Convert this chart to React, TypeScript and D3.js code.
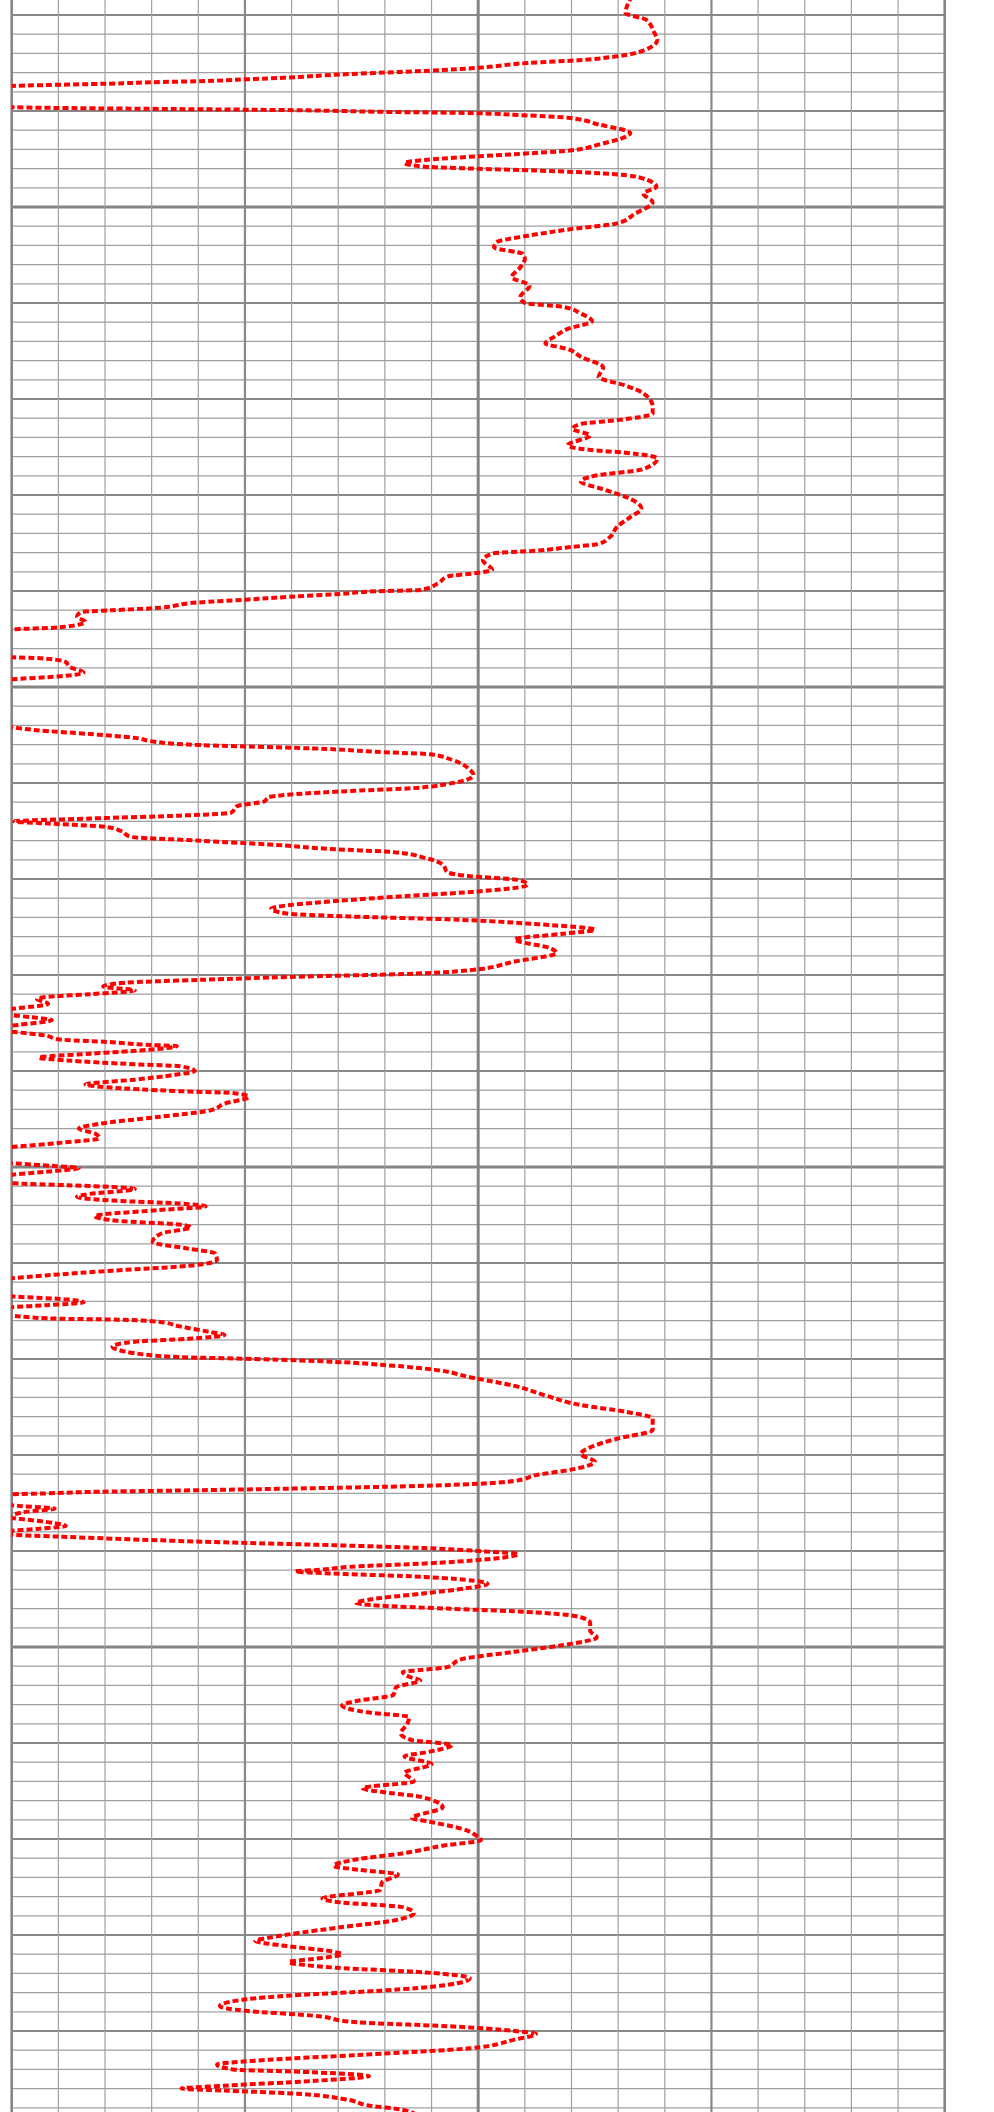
import React from "react";
import * as d3 from "d3";

// Depth (m) of each sample, top to bottom
const depth: number[] = [
  1978.0, 1979.8, 1980.5, 1981.9, 1982.6, 1983.7, 1984.3, 1984.7, 1985.0, 1985.5,
  1985.8, 1986.0, 1986.2, 1986.5, 1986.7, 1986.9, 1987.0, 1987.1, 1987.2, 1987.3,
  1987.4, 1988.5, 1989.6, 1989.7, 1989.8, 1989.9, 1990.1, 1990.2, 1990.4, 1990.7,
  1991.4, 1992.3, 1993.5, 1994.1, 1994.5, 1994.8, 1995.1, 1995.4, 1995.8, 1996.0,
  1996.2, 1996.5, 1996.9, 1997.9, 1998.6, 1999.5, 2000.7, 2001.7, 2002.3, 2003.0,
  2003.7, 2004.2, 2004.9, 2005.4, 2006.3, 2007.3, 2008.2, 2009.4, 2010.0, 2010.4,
  2011.1, 2011.9, 2012.7, 2013.5, 2014.2, 2014.8, 2015.6, 2016.7, 2017.7, 2018.6,
  2019.4, 2020.8, 2021.5, 2022.2, 2022.6, 2023.1, 2023.8, 2024.8, 2025.3, 2025.6,
  2026.2, 2027.3, 2028.0, 2028.6, 2029.4, 2030.4, 2031.4, 2032.3, 2033.3, 2034.4,
  2035.1, 2035.4, 2035.8, 2036.1, 2036.8, 2037.8, 2038.1, 2038.5, 2039.2, 2039.9,
  2040.0, 2040.3, 2040.6, 2040.9, 2041.2, 2041.8, 2042.0, 2042.2, 2042.7, 2043.2,
  2043.8, 2044.0, 2045.4, 2046.9, 2047.0, 2047.4, 2047.9, 2048.5, 2048.9, 2049.2,
  2051.6, 2054.2, 2054.5, 2054.9, 2055.3, 2055.7, 2056.0, 2056.2, 2056.4, 2056.8,
  2057.0, 2057.6, 2058.6, 2059.2, 2060.1, 2060.6, 2060.8, 2061.2, 2061.5, 2061.9,
  2062.4, 2063.1, 2063.4, 2063.7, 2064.0, 2064.2, 2064.6, 2065.0, 2065.6, 2066.0,
  2066.4, 2066.9, 2067.2, 2067.8, 2068.5, 2069.3, 2069.7, 2070.1, 2070.6, 2071.3,
  2071.8, 2072.3, 2072.7, 2073.1, 2073.6, 2073.9, 2074.2, 2074.7, 2075.3, 2075.7,
  2076.3, 2077.2, 2077.7, 2078.6, 2079.5, 2079.9, 2080.2, 2080.5, 2080.8, 2081.2,
  2081.6, 2082.0, 2082.3, 2082.5, 2083.0, 2083.5, 2083.8, 2084.2, 2084.4, 2084.7,
  2085.2, 2085.6, 2085.9, 2086.3, 2086.7, 2087.0, 2087.3, 2087.4, 2087.8, 2088.2,
  2088.6, 2088.9, 2089.3, 2089.5, 2090.0, 2090.4, 2090.9, 2091.4, 2091.7, 2092.1,
  2092.3, 2092.7, 2093.4, 2094.1, 2094.8, 2095.5, 2096.0, 2096.5, 2097.0, 2097.5,
  2097.9, 2098.8, 2099.6, 2099.9, 2100.1, 2100.5, 2100.8, 2101.2, 2101.7, 2101.9,
  2102.1, 2102.3, 2102.8, 2103.1, 2103.5, 2103.8, 2104.1, 2104.5, 2105.1, 2105.6,
  2106.0, 2106.3, 2106.9, 2107.8, 2108.5, 2109.0, 2109.7, 2110.3, 2110.8, 2111.3,
  2111.6, 2112.6, 2113.5, 2113.8, 2114.1, 2114.4, 2114.6, 2115.0, 2115.5, 2115.8,
  2115.9, 2116.1, 2116.6, 2117.2, 2117.5, 2117.9, 2118.2, 2118.7, 2119.4, 2119.8,
  2120.0, 2120.3, 2120.7, 2121.1, 2121.9, 2122.8, 2123.8, 2124.8, 2125.5, 2126.2,
  2127.4, 2128.3, 2129.2, 2129.9, 2130.7, 2131.5, 2132.1, 2132.7, 2133.0, 2133.3,
  2133.5, 2133.7, 2133.8, 2134.0, 2134.1, 2134.7, 2135.3, 2135.6, 2135.9, 2136.2,
  2136.4, 2136.6, 2137.1, 2137.4, 2137.7, 2138.0, 2138.3, 2138.5, 2138.8, 2139.1,
  2139.4, 2139.7, 2140.1, 2140.3, 2140.9, 2141.3, 2141.6, 2142.0, 2142.1, 2142.4,
  2142.6, 2143.0, 2143.4, 2143.9, 2144.4, 2145.1, 2145.4, 2145.7, 2146.0, 2146.4,
  2146.9, 2147.5, 2148.3, 2149.0, 2149.8, 2150.5, 2151.3, 2152.1, 2152.4, 2152.6,
  2153.1, 2153.5, 2154.2, 2155.0, 2155.6, 2156.1, 2156.8, 2157.3, 2158.0, 2159.0,
  2159.7, 2160.2, 2160.9, 2161.4, 2162.2, 2163.1, 2164.0, 2164.7, 2165.2, 2165.6,
  2166.7, 2167.8, 2168.2, 2168.9, 2169.8, 2170.1, 2170.7, 2171.5, 2172.1, 2172.8,
  2173.2, 2173.7, 2174.5, 2175.3, 2176.2, 2176.6, 2177.1, 2177.7, 2178.5, 2179.2,
  2180.3, 2180.6, 2181.1, 2181.7, 2182.0, 2182.5, 2182.8, 2183.4, 2183.9, 2184.5,
  2185.2, 2185.8, 2186.3, 2186.7, 2187.4, 2187.9, 2188.4, 2189.1, 2189.5, 2190.0,
  2190.3, 2190.9, 2191.8, 2192.5, 2193.0, 2193.5, 2194.0, 2194.3, 2194.7, 2195.2,
  2195.7, 2196.0, 2196.2, 2196.5, 2197.1, 2197.8, 2198.2, 2199.2,
];

// Log reading at each depth (track units 0..100)
const reading: number[] = [
  66.5, 65.8, 68.0, 68.9, 69.2, 67.7, 64.9, 61.0, 55.3, 50.0,
  44.8, 40.0, 35.2, 29.9, 25.1, 19.9, 15.1, 12.2, 8.4, 3.6,
  0.0, -7.5, 0.0, 6.5, 18.0, 29.0, 40.5, 48.6, 53.9, 59.6,
  62.9, 66.3, 62.9, 60.0, 53.9, 48.6, 44.3, 42.1, 44.3, 49.5,
  56.2, 63.4, 67.2, 69.1, 67.7, 68.7, 66.8, 64.9, 60.0, 55.3,
  51.9, 51.7, 54.8, 55.0, 54.5, 53.6, 55.5, 54.5, 55.0, 59.1,
  61.0, 62.2, 59.6, 58.2, 57.2, 59.6, 61.0, 63.4, 62.9, 65.8,
  67.7, 68.7, 68.7, 64.9, 61.0, 60.1, 62.0, 59.6, 62.0, 65.8,
  69.2, 67.7, 62.5, 61.0, 63.4, 66.3, 67.5, 66.3, 64.9, 64.1,
  62.9, 60.1, 56.2, 51.5, 50.5, 51.5, 50.0, 46.7, 45.7, 43.8,
  40.0, 35.2, 29.9, 25.1, 19.9, 15.1, 10.8, 7.4, 7.0, 7.9,
  5.0, 0.0, -10.0, 0.0, 3.1, 5.8, 6.2, 7.7, 5.0, 0.0,
  -15.0, 0.0, 2.7, 8.4, 13.2, 15.3, 18.9, 25.1, 32.3, 40.0,
  44.8, 47.2, 49.1, 49.5, 46.7, 41.9, 37.1, 29.9, 27.5, 27.1,
  24.2, 23.5, 18.0, 8.4, 0.3, 3.6, 10.3, 11.7, 12.7, 19.9,
  27.5, 34.7, 40.9, 44.3, 46.2, 46.7, 49.1, 54.3, 55.3, 50.0,
  41.9, 34.7, 29.9, 27.8, 29.5, 36.1, 46.7, 56.2, 62.5, 59.1,
  53.9, 57.7, 58.4, 53.9, 49.1, 41.9, 29.9, 20.4, 12.2, 9.8,
  13.2, 8.4, 3.6, 2.7, 3.9, 0.3, -2.5, 0.0, 2.2, 4.3,
  0.7, -2.5, 0.0, 3.6, 5.0, 10.8, 15.1, 17.7, 14.6, 8.4,
  2.9, 6.0, 13.2, 18.0, 19.6, 17.5, 13.2, 7.9, 10.3, 18.0,
  23.7, 25.4, 22.8, 21.3, 15.6, 9.4, 7.2, 8.9, 9.4, 5.0,
  0.3, -10.0, 0.0, 4.6, 7.2, 3.6, 0.0, -4.0, 0.3, 6.0,
  11.3, 13.2, 8.4, 7.0, 10.8, 18.0, 20.8, 15.6, 8.9, 11.3,
  18.0, 19.2, 16.1, 15.1, 18.9, 21.8, 22.0, 18.9, 10.8, 3.6,
  0.0, -10.0, 0.3, 6.0, 7.7, 3.6, 0.0, -4.0, 0.0, 5.0,
  11.3, 15.6, 18.0, 21.3, 22.8, 18.9, 13.2, 10.8, 13.2, 18.0,
  26.1, 34.7, 40.9, 45.2, 49.1, 53.9, 57.2, 61.0, 65.8, 68.7,
  68.7, 64.9, 62.0, 61.0, 62.5, 60.1, 56.2, 53.9, 50.0, 40.5,
  29.9, 18.0, 10.8, 3.6, 0.0, -7.5, 0.7, 4.6, 1.7, 0.0,
  -1.5, 0.3, 4.6, 5.8, 2.7, -1.0, 0.0, 5.0, 13.2, 22.8,
  34.7, 44.3, 51.5, 54.3, 50.5, 44.3, 37.1, 32.3, 30.4, 35.7,
  41.9, 48.6, 51.0, 48.6, 44.3, 38.1, 36.9, 39.5, 46.7, 56.2,
  61.0, 62.0, 62.0, 62.7, 59.1, 53.9, 48.1, 46.7, 43.8, 41.9,
  42.6, 43.8, 41.2, 40.9, 37.1, 35.4, 38.1, 42.6, 42.4, 41.7,
  42.9, 47.2, 44.8, 42.1, 45.0, 42.1, 43.1, 37.6, 40.5, 43.8,
  46.2, 42.9, 44.8, 48.1, 50.0, 50.3, 46.2, 41.9, 37.1, 34.5,
  37.1, 41.4, 39.7, 39.5, 33.3, 35.2, 41.9, 43.1, 40.9, 35.2,
  27.5, 26.1, 29.0, 34.2, 35.4, 32.3, 29.7, 34.7, 44.3, 49.1,
  46.7, 39.5, 29.9, 25.1, 22.3, 25.1, 32.3, 37.1, 46.7, 53.9,
  56.2, 53.9, 49.1, 37.1, 27.5, 22.0, 23.7, 32.3, 38.3, 32.3,
  22.8, 18.2, 22.8, 29.9, 35.7, 38.5, 41.9, 44.0,
];

const trackDomain: [number, number] = [0, 100];
const depthDomain: [number, number] = [1980, 2200];
const verticalGrid: number[] = d3.range(0, 101, 5);
const horizontalGrid: number[] = d3.range(1978, 2201, 2);

const W = 994;
const H = 2112;

export default function App() {
  const x = d3.scaleLinear().domain(trackDomain).range([11.7, 944.7]);
  const y = d3.scaleLinear().domain(depthDomain).range([15, 15 + 19.2 * 110]);

  const pts: [number, number][] = depth.map((d, i) => [reading[i], d]);
  const line = d3
    .line<[number, number]>()
    .x((p) => x(p[0]))
    .y((p) => y(p[1]))
    .curve(d3.curveMonotoneY);

  const hStyle = (d: number) => {
    if (d % 50 === 0) return { w: 3, c: "#858585" };
    if (d % 10 === 0) return { w: 2.2, c: "#888888" };
    return { w: 1.2, c: "#a0a0a0" };
  };
  const vStyle = (v: number) => {
    if (v === 50) return { w: 3, c: "#858585" };
    if (v === 0 || v === 100) return { w: 2.6, c: "#858585" };
    if (v % 25 === 0) return { w: 2.2, c: "#888888" };
    return { w: 1.2, c: "#a0a0a0" };
  };

  return (
    <svg
      width={W}
      height={H}
      style={{ position: "absolute", left: 0, top: 0, background: "#fff" }}
    >
      <defs>
        <clipPath id="track">
          <rect x={x(0)} y={0} width={x(100) - x(0)} height={H} />
        </clipPath>
      </defs>
      <rect x={0} y={0} width={W} height={H} fill="#fff" />
      <g>
        {horizontalGrid.map((d) => {
          const s = hStyle(d);
          return (
            <line
              key={"h" + d}
              x1={x(0)}
              x2={x(100)}
              y1={y(d)}
              y2={y(d)}
              stroke={s.c}
              strokeWidth={s.w}
            />
          );
        })}
        {verticalGrid.map((v) => {
          const s = vStyle(v);
          return (
            <line
              key={"v" + v}
              x1={x(v)}
              x2={x(v)}
              y1={0}
              y2={H}
              stroke={s.c}
              strokeWidth={s.w}
            />
          );
        })}
      </g>
      <g clipPath="url(#track)">
        <path
          d={line(pts) || ""}
          fill="none"
          stroke="#ff0000"
          strokeWidth={4}
          strokeDasharray="6,3"
          strokeLinejoin="round"
        />
      </g>
    </svg>
  );
}
